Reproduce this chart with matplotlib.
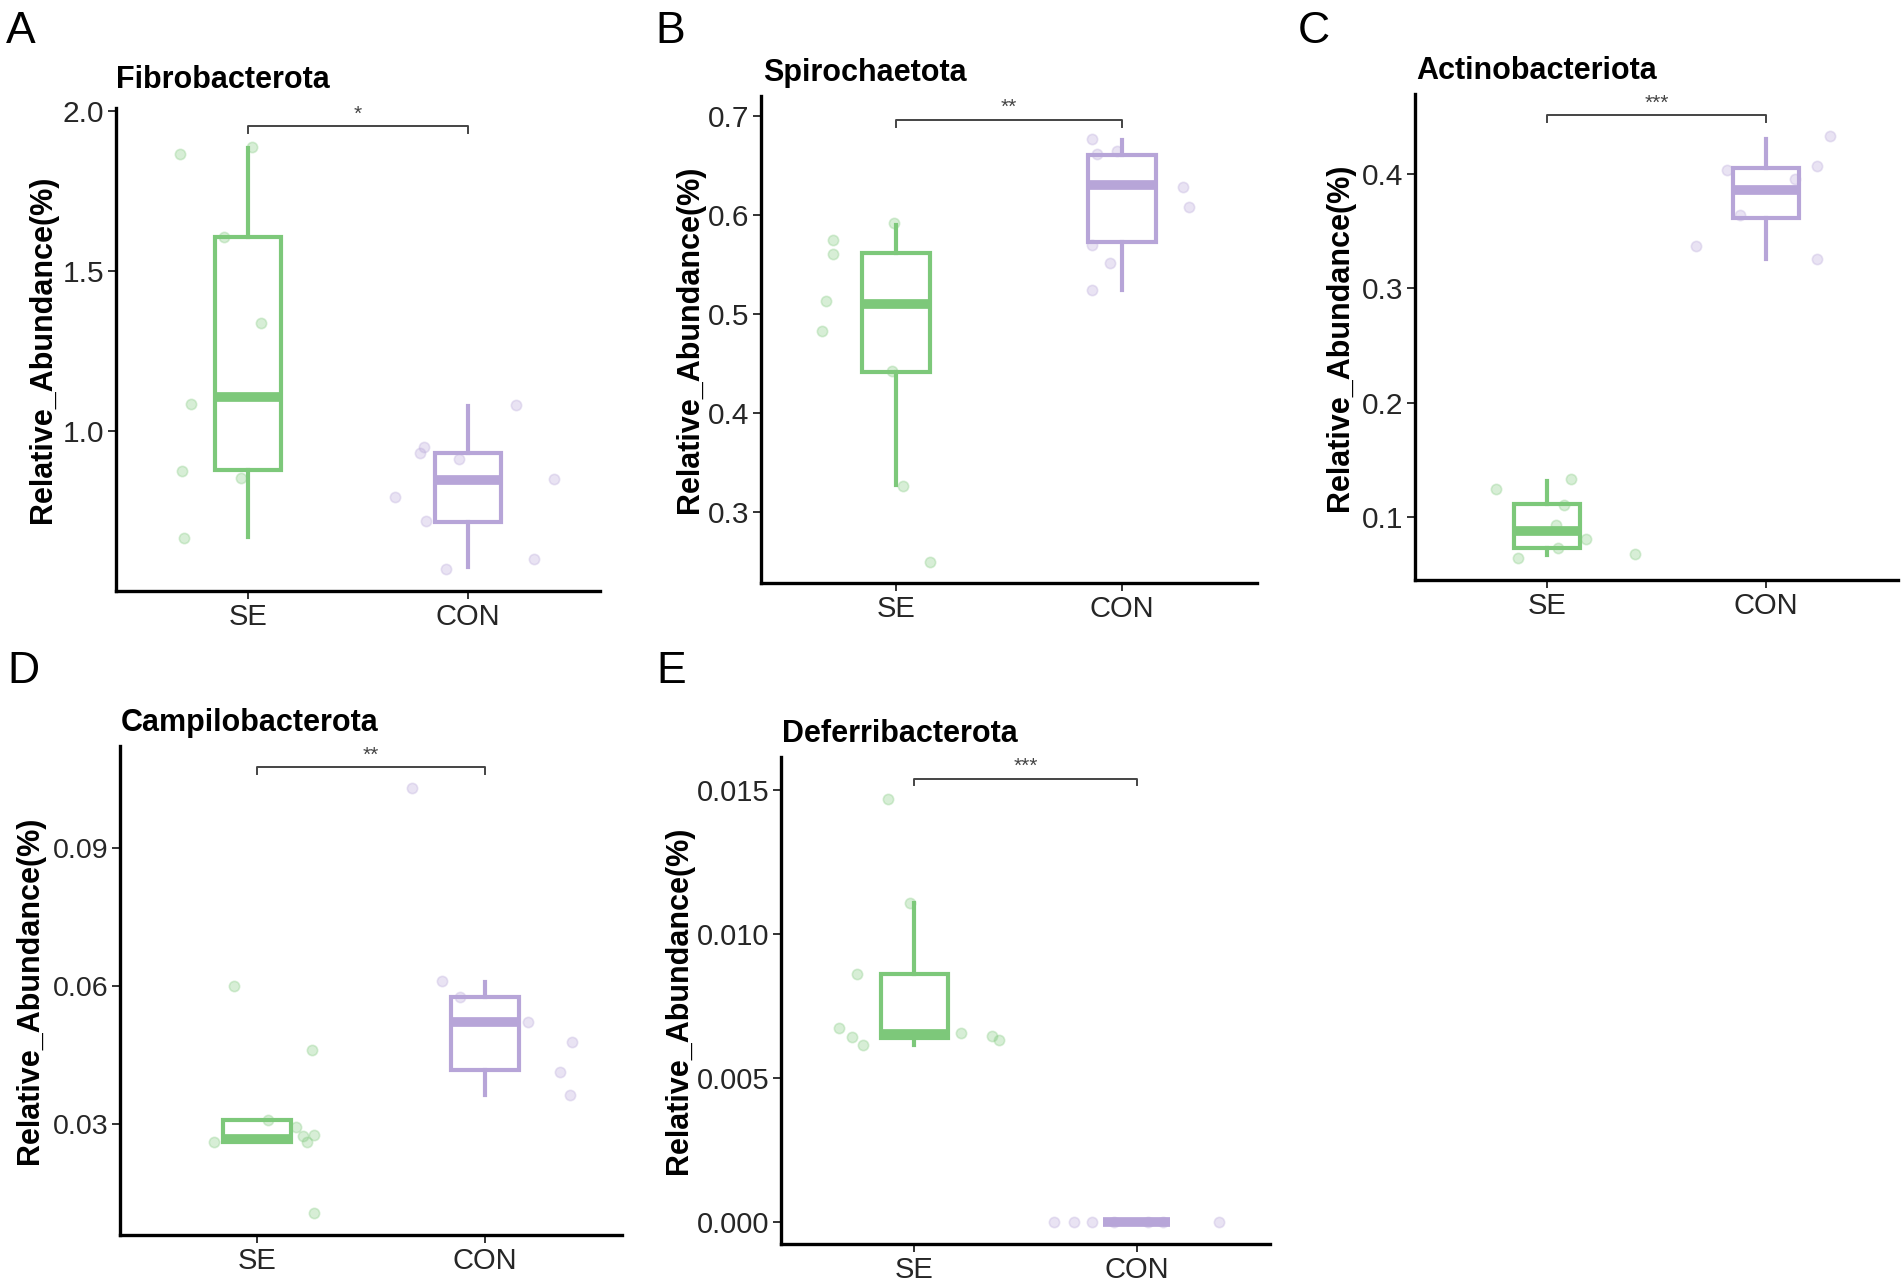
import matplotlib
matplotlib.use("Agg")
import matplotlib.pyplot as plt

plt.rcParams['font.family'] = ['Liberation Sans', 'DejaVu Sans']

# ---------------- data ----------------
groups = ["SE", "CON"]
ylabel_text = "Relative_Abundance(%)"

titles = ["Fibrobacterota", "Spirochaetota", "Actinobacteriota", "Campilobacterota", "Deferribacterota"]
panel_letters = ["A", "B", "C", "D", "E"]
sig_labels = ["*", "**", "***", "**", "***"]

# box stats: [whisker low, Q1, median, Q3, whisker high]
se_box_A = [0.669, 0.879, 1.106, 1.606, 1.885]
con_box_A = [0.575, 0.717, 0.848, 0.932, 1.078]
se_pts_A = [1.866, 1.888, 1.606, 1.337, 1.084, 0.875, 0.853, 0.667]
se_jit_A = [-0.31, 0.02, -0.11, 0.06, -0.26, -0.30, -0.03, -0.29]
con_pts_A = [0.949, 0.932, 0.913, 0.793, 0.718, 0.570, 1.080, 0.849, 0.600]
con_jit_A = [-0.20, -0.22, -0.04, -0.33, -0.19, -0.10, 0.22, 0.39, 0.30]
yticks_A = [1.0, 1.5, 2.0]
yticklabels_A = ["1.0", "1.5", "2.0"]
bracket_A = 1.953

se_box_B = [0.327, 0.441, 0.5095, 0.561, 0.590]
con_box_B = [0.524, 0.572, 0.630, 0.660, 0.676]
se_pts_B = [0.483, 0.513, 0.560, 0.575, 0.592, 0.442, 0.326, 0.249]
se_jit_B = [-0.33, -0.31, -0.28, -0.28, -0.01, -0.02, 0.03, 0.15]
con_pts_B = [0.677, 0.661, 0.664, 0.628, 0.608, 0.569, 0.551, 0.524]
con_jit_B = [-0.13, -0.11, -0.02, 0.27, 0.30, -0.13, -0.05, -0.13]
yticks_B = [0.3, 0.4, 0.5, 0.6, 0.7]
yticklabels_B = ["0.3", "0.4", "0.5", "0.6", "0.7"]
bracket_B = 0.696

se_box_C = [0.0668, 0.0735, 0.0883, 0.1113, 0.1318]
con_box_C = [0.3258, 0.3611, 0.3859, 0.405, 0.4307]
se_pts_C = [0.1247, 0.064, 0.1336, 0.1106, 0.0936, 0.0735, 0.0806, 0.0675]
se_jit_C = [-0.23, -0.13, 0.11, 0.08, 0.04, 0.05, 0.18, 0.40]
con_pts_C = [0.4035, 0.3636, 0.3371, 0.3954, 0.4067, 0.4325, 0.3254]
con_jit_C = [-0.18, -0.12, -0.32, 0.13, 0.23, 0.29, 0.23]
yticks_C = [0.1, 0.2, 0.3, 0.4]
yticklabels_C = ["0.1", "0.2", "0.3", "0.4"]
bracket_C = 0.451

se_box_D = [0.0260, 0.0260, 0.0267, 0.0309, 0.0309]
con_box_D = [0.0363, 0.0416, 0.0522, 0.0575, 0.0609]
se_pts_D = [0.060, 0.0461, 0.0260, 0.0309, 0.0293, 0.0273, 0.0275, 0.0260, 0.0105]
se_jit_D = [-0.10, 0.24, -0.19, 0.05, 0.17, 0.20, 0.25, 0.22, 0.25]
con_pts_D = [0.103, 0.0611, 0.0575, 0.0522, 0.0477, 0.0412, 0.0363]
con_jit_D = [-0.32, -0.19, -0.11, 0.19, 0.38, 0.33, 0.37]
yticks_D = [0.03, 0.06, 0.09]
yticklabels_D = ["0.03", "0.06", "0.09"]
bracket_D = 0.1075

se_box_E = [0.00614, 0.0064, 0.00653, 0.0086, 0.01107]
con_box_E = [0.0, 0.0, 0.0, 0.0, 0.0]
se_pts_E = [0.01467, 0.01107, 0.0086, 0.00674, 0.00643, 0.00614, 0.00657, 0.00647, 0.00633]
se_jit_E = [-0.12, -0.02, -0.26, -0.34, -0.28, -0.23, 0.21, 0.35, 0.38]
con_pts_E = [0.0, 0.0, 0.0, 0.0, 0.0, 0.0, 0.0]
con_jit_E = [-0.37, -0.28, -0.20, 0.37, -0.10, 0.05, 0.12]
yticks_E = [0.0, 0.005, 0.010, 0.015]
yticklabels_E = ["0.000", "0.005", "0.010", "0.015"]
bracket_E = 0.01539

# ---------------- styling / layout ----------------
GREEN = "#7dc87a"
PURPLE = "#b7a5d8"
W, H = 1902, 1280

panels = [
    dict(se_box=se_box_A, con_box=con_box_A, se_pts=se_pts_A, se_jit=se_jit_A,
         con_pts=con_pts_A, con_jit=con_jit_A, yticks=yticks_A, ytl=yticklabels_A,
         bracket=bracket_A, ylim=(0.5, 2.01),
         box=(116, 600, 108, 591), title_xy=(116, 88), letter_xy=(6, 43),
         ylab_x=43, ylab_y=0.5, ytick_fs=21.5),
    dict(se_box=se_box_B, con_box=con_box_B, se_pts=se_pts_B, se_jit=se_jit_B,
         con_pts=con_pts_B, con_jit=con_jit_B, yticks=yticks_B, ytl=yticklabels_B,
         bracket=bracket_B, ylim=(0.228, 0.72),
         box=(761, 1257, 96, 583), title_xy=(763, 81), letter_xy=(655, 43),
         ylab_x=690, ylab_y=0.5, ytick_fs=21.5),
    dict(se_box=se_box_C, con_box=con_box_C, se_pts=se_pts_C, se_jit=se_jit_C,
         con_pts=con_pts_C, con_jit=con_jit_C, yticks=yticks_C, ytl=yticklabels_C,
         bracket=bracket_C, ylim=(0.0452, 0.4696),
         box=(1415, 1898, 94, 580), title_xy=(1416, 79), letter_xy=(1298, 43),
         ylab_x=1340, ylab_y=0.5, ytick_fs=21.5),
    dict(se_box=se_box_D, con_box=con_box_D, se_pts=se_pts_D, se_jit=se_jit_D,
         con_pts=con_pts_D, con_jit=con_jit_D, yticks=yticks_D, ytl=yticklabels_D,
         bracket=bracket_D, ylim=(0.0058, 0.1121),
         box=(120, 622, 746, 1235), title_xy=(121, 731), letter_xy=(7, 683),
         ylab_x=30, ylab_y=0.5, ytick_fs=20.5),
    dict(se_box=se_box_E, con_box=con_box_E, se_pts=se_pts_E, se_jit=se_jit_E,
         con_pts=con_pts_E, con_jit=con_jit_E, yticks=yticks_E, ytl=yticklabels_E,
         bracket=bracket_E, ylim=(-0.00076, 0.01614),
         box=(781, 1270, 757, 1244), title_xy=(782, 742), letter_xy=(656, 683),
         ylab_x=679, ylab_y=0.5, ytick_fs=21),
]

fig = plt.figure(figsize=(W / 100, H / 100), dpi=100)
fig.patch.set_facecolor("white")


def stats_dict(v, label):
    return dict(whislo=v[0], q1=v[1], med=v[2], q3=v[3], whishi=v[4], label=label)


for i, p in enumerate(panels):
    l, r, t, b = p["box"]
    ax = fig.add_axes([l / W, 1 - b / H, (r - l) / W, (b - t) / H])
    pos = [1, 2]
    for g, (bx, col, pts, jit) in enumerate([
        (p["se_box"], GREEN, p["se_pts"], p["se_jit"]),
        (p["con_box"], PURPLE, p["con_pts"], p["con_jit"]),
    ]):
        ax.bxp([stats_dict(bx, groups[g])], positions=[pos[g]], widths=0.3,
               showfliers=False, showcaps=False, patch_artist=True,
               boxprops=dict(facecolor="white", edgecolor=col, linewidth=3.0),
               medianprops=dict(color=col, linewidth=7, solid_capstyle="butt"),
               whiskerprops=dict(color=col, linewidth=3.0),
               zorder=2)
        xs = [pos[g] + j for j in jit]
        ax.scatter(xs, pts, s=55, facecolor=col, edgecolor=col, alpha=0.3,
                   linewidths=1.2, zorder=3)

    ax.set_xlim(0.4, 2.6)
    ax.set_ylim(*p["ylim"])
    ax.set_xticks(pos)
    ax.set_xticklabels(groups, fontsize=21, color="#262626")
    ax.set_yticks(p["yticks"])
    ax.set_yticklabels(p["ytl"], fontsize=p["ytick_fs"], color="#262626")
    ax.tick_params(axis="both", length=5.5, width=1.4, color="#333333", pad=3)
    for s in ["top", "right"]:
        ax.spines[s].set_visible(False)
    for s in ["left", "bottom"]:
        ax.spines[s].set_linewidth(2.4)
        ax.spines[s].set_color("black")
    ax.set_facecolor("white")

    # significance bracket
    yb = p["bracket"]
    span = p["ylim"][1] - p["ylim"][0]
    tip = span * 0.014
    ax.plot([pos[0], pos[0], pos[1], pos[1]], [yb - tip, yb, yb, yb - tip],
            color="#444444", linewidth=1.4, zorder=4, clip_on=False)
    ax.annotate(sig_labels[i], xy=(1.5, yb), xytext=(0, 2), textcoords="offset points",
                ha="center", va="bottom", fontsize=15, color="#444444",
                annotation_clip=False)

    # y label
    ax.set_ylabel(ylabel_text, fontsize=22, fontweight="bold")
    ax.yaxis.set_label_coords((p["ylab_x"] - l) / (r - l), p["ylab_y"])
    ax.yaxis.label.set_va("center")

    # title and panel letter
    tx, ty = p["title_xy"]
    fig.text(tx / W, 1 - ty / H, titles[i], fontsize=22, fontweight="bold",
             ha="left", va="baseline")
    lx, ly = p["letter_xy"]
    fig.text(lx / W, 1 - ly / H, panel_letters[i], fontsize=32,
             ha="left", va="baseline")

fig.savefig("out.png", dpi=100, facecolor="white")
